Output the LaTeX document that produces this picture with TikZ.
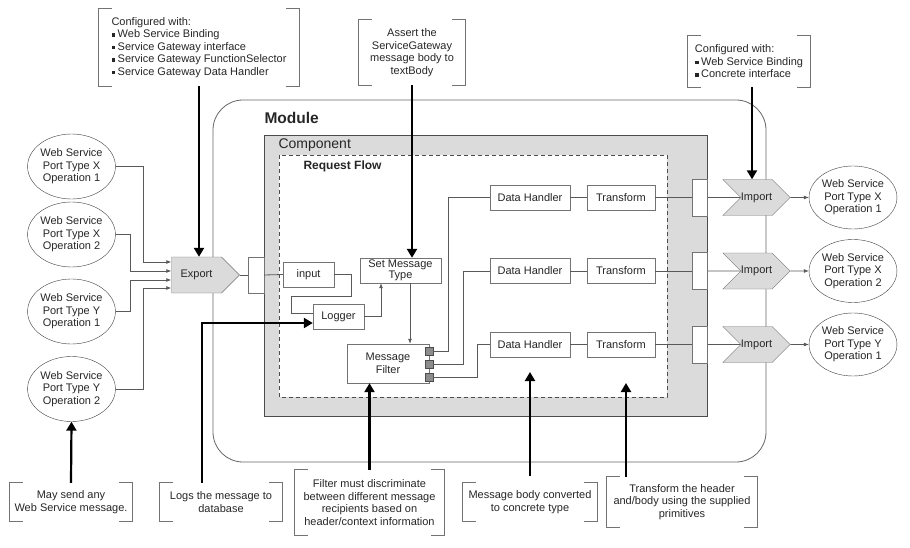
\documentclass[tikz,border=0pt]{standalone}
\usepackage{fontspec}
\setmainfont{Liberation Sans}
\usetikzlibrary{arrows.meta,shapes.geometric,shapes.symbols,calc}
\pgfdeclarelayer{background}
\pgfsetlayers{background,main}

\tikzset{
  every node/.style={font=\fontsize{11}{12.5}\selectfont, text=black!85},
  box/.style={draw=black!55, fill=white, inner sep=0pt, minimum height=25pt, align=center},
  port/.style={draw=black!55, fill=white, inner sep=0pt, minimum width=15pt, minimum height=37pt},
  chev/.style={draw=black!55, fill=black!14, shape=signal, inner sep=0pt, minimum height=36pt},
  ws/.style={draw=black!75, ellipse, inner sep=0pt, minimum width=77pt, minimum height=65pt, align=center},
  pin/.style={draw=black!70, fill=black!45, inner sep=0pt, minimum size=8pt},
  note/.style={inner sep=0pt, align=center},
  wire/.style={draw=black!65, line width=0.8pt},
  flow/.style={wire, -{Latex[length=5pt,width=4pt]}},
  callout/.style={line width=2.2pt, -{Triangle[length=9pt,width=10pt]}},
  bracket/.style={draw=black!55, line width=0.8pt},
}
\newcommand\blt{\raisebox{1.2pt}{\rule{3.6pt}{3.6pt}}\hspace{2.6pt}}
\newcommand\bracket[1]{%
  \draw[bracket] ([xshift=13pt]#1.north west) -| (#1.south west) -- ++(13,0);
  \draw[bracket] ([xshift=-13pt]#1.north east) -| (#1.south east) -- ++(-13,0);}

\begin{document}
\begin{tikzpicture}[x=1pt,y=-1pt]
\useasboundingbox (0,0) rectangle (910,548);

% module, component and request flow
\draw[black!60, line width=0.8pt, rounded corners=30pt] (213,100) rectangle (766,462);
\draw[black!70, fill=black!14, line width=0.8pt] (264,135) rectangle (707,416);
\draw[black!70, fill=white, line width=0.7pt, dash pattern=on 4pt off 3pt] (279,155) rectangle (667,397);
\node[anchor=west, font=\fontsize{15.5}{18}\selectfont\bfseries] (modTitle) at (261,118) {Module};
\node[anchor=west, font=\fontsize{14}{16}\selectfont] (compTitle) at (275,145) {Component};
\node[anchor=west, font=\fontsize{12}{14}\selectfont\bfseries] (flowTitle) at (300,166) {Request Flow};

% web services on the left
\foreach \i/\y/\pty/\opn in {1/166.5/X/1,2/234.5/X/2,3/311.5/Y/1,4/389/Y/2}
  \node[ws] (c\i) at (71.5,\y) {Web Service\\Port Type \pty\\Operation \opn};

\node[chev, signal to=east, minimum width=68pt] (exp) at (196.5,275) {Export};
\node[port, minimum width=16pt, minimum height=36pt] (exPort) at (256,275) {};

\draw[flow] (c1.east) -- ++(28,0) |- ([yshift=13pt]exp.west);
\draw[flow] (c2.east) -- ++(15,0) |- ([yshift=4pt]exp.west);
\draw[flow] (c3.east) -- ++(15,0) |- ([yshift=-5pt]exp.west);
\draw[flow] (c4.east) -- ++(28,0) |- ([yshift=-13pt]exp.west);

% request flow
\node[box, minimum width=51pt] (input) at (308.5,274.5) {input};
\node[box, minimum width=51pt] (logger) at (338.5,316.5) {Logger};
\node[box, minimum width=81pt, font=\fontsize{11}{10.5}\selectfont] (smt) at (400.5,270.5) {Set Message\\Type};
\node[box, minimum width=82pt, minimum height=39pt] (filt) at (388,363.5) {Message\\Filter};
\foreach \i/\y in {1/351,2/364,3/377}
  \node[pin] (fp\i) at (429,\y) {};

\draw[wire] (exp.east) -- (exPort.west);
\draw[wire] (exPort.east) -- (input.west);
\draw[wire] (input.east) -- ++(17,0) -- ++(0,22) -- ++(-60,0) |- ([yshift=3.5pt]logger.west);
\draw[flow] (logger.east) -| ([xshift=-19.5pt]smt.south);
\draw[flow] ([xshift=9.5pt]smt.south) -- ([xshift=22pt]filt.north);

\foreach \i/\y/\pty/\opn in {1/197.5/X/1,2/271/X/2,3/344.5/Y/1}{
  \node[box, minimum width=80pt] (dh\i) at (530,\y) {Data Handler};
  \node[box, minimum width=68pt] (tr\i) at (621,\y) {Transform};
  \node[port] (ip\i) at (699.5,\y) {};
  \node[chev, signal from=west, signal to=east, minimum width=67pt] (imp\i) at (756.5,\y) {Import};
  \node[ws, minimum width=74pt, minimum height=63pt] (r\i) at (853,\y) {Web Service\\Port Type \pty\\Operation \opn};
  \draw[wire] (dh\i) -- (tr\i);
  \draw[wire] (tr\i) -- (ip\i);
  \begin{pgfonlayer}{background}
    \draw[wire] (ip\i) -- (imp\i);
  \end{pgfonlayer}
  \draw[flow] (imp\i) -- (r\i);
}
\draw[wire] (fp1.east) -- ++(15,0) |- (dh1.west);
\draw[wire] (fp2.east) -- ++(30,0) |- (dh2.west);
\draw[wire] (fp3.east) -- ++(44,0) |- (dh3.west);

% callouts
\node[note, align=left, minimum width=200pt, minimum height=77pt] (cfgExp) at (199,47.5)
  {Configured with:\\\blt Web Service Binding\\\blt Service Gateway interface\\\blt Service Gateway FunctionSelector\\\blt Service Gateway Data Handler};
\node[note, minimum width=106pt, minimum height=65pt] (cfgMid) at (412,52.5)
  {Assert the\\ServiceGateway\\message body to\\textBody};
\node[note, align=left, minimum width=122pt, minimum height=51pt] (cfgImp) at (749,61.5)
  {Configured with:\\\blt Web Service Binding\\\blt Concrete interface};
\node[note, minimum width=122pt, minimum height=38pt] (noteAny) at (71,502) {May send any\\Web Service message.};
\node[note, minimum width=122pt, minimum height=38pt] (noteLog) at (221,502) {Logs the message to\\database};
\node[note, minimum width=149pt, minimum height=65pt] (noteFilt) at (369.5,502.5)
  {Filter must discriminate\\between different message\\recipients based on\\header/context information};
\node[note, minimum width=134pt, minimum height=38pt] (noteBody) at (530,502) {Message body converted\\to concrete type};
\node[note, minimum width=150pt, minimum height=50pt] (noteTrans) at (682,502)
  {Transform the header\\and/body using the supplied\\primitives};
\foreach \n in {cfgExp,cfgMid,cfgImp,noteAny,noteLog,noteFilt,noteBody,noteTrans}{
  \bracket{\n}
}

\coordinate (dhTip) at (530,372);
\coordinate (trTip) at (626,383);
\draw[callout] (cfgExp.south) -- (cfgExp.south |- exp.north);
\draw[callout] (cfgMid.south) -- (cfgMid.south |- smt.north);
\draw[callout] ($(cfgImp.south)+(3,0)$) -- ($(imp1.north)+(-4.5,0)$);
\draw[callout] (noteAny.north) -- (c4.south);
\draw[callout] ([xshift=-19pt]noteLog.north) |- ([yshift=-6.5pt]logger.west);
\draw[callout] (noteFilt.north) -- (noteFilt.north |- filt.south);
\draw[callout] ([yshift=7pt]noteBody.north) -- (dhTip);
\draw[callout] (trTip |- noteTrans.north) -- (trTip);

\end{tikzpicture}
\end{document}
